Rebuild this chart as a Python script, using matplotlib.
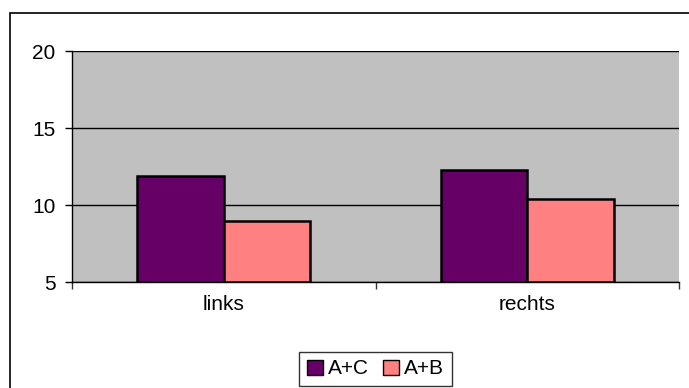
import matplotlib

matplotlib.use("Agg")
import matplotlib.pyplot as plt  # noqa: E402
import numpy as np  # noqa: E402
from matplotlib.patches import Rectangle  # noqa: E402

plt.rcParams["font.family"] = ["Liberation Sans", "DejaVu Sans"]

categories = ["links", "rechts"]
series_names = ["A+C", "A+B"]
values_ac = [11.9, 12.3]
values_ab = [9.0, 10.4]
y_ticks = [5, 10, 15, 20]

colors = ["#660066", "#FF8080"]
bar_w = 1 / 3.5  # gap width 150%
font_size = 15

fig = plt.figure(figsize=(6.89, 3.88), dpi=100)
ax = fig.add_axes([72 / 689, 1 - 282.3 / 388, (679 - 72) / 689, (282.3 - 51) / 388])
ax.set_facecolor("#C0C0C0")

x = np.arange(len(categories))
b1 = ax.bar(x - bar_w / 2, np.array(values_ac) - 5, bar_w, bottom=5, color=colors[0],
            edgecolor="black", linewidth=1.8, label=series_names[0], zorder=3)
b2 = ax.bar(x + bar_w / 2, np.array(values_ab) - 5, bar_w, bottom=5, color=colors[1],
            edgecolor="black", linewidth=1.8, label=series_names[1], zorder=3)

ax.set_ylim(5, 20)
ax.set_xlim(-0.5, len(categories) - 0.5)
ax.set_yticks(y_ticks)
ax.yaxis.grid(True, color="black", linewidth=1.0, zorder=1)
ax.set_axisbelow(True)

# category boundaries carry the ticks, labels sit at the centres
ax.set_xticks(np.arange(-0.5, len(categories), 1.0))
ax.set_xticklabels([])
ax.set_xticks(x, minor=True)
ax.set_xticklabels(categories, minor=True)
ax.tick_params(axis="x", which="major", length=5, width=1, color="#333333", direction="out")
ax.tick_params(axis="x", which="minor", length=0, pad=9, labelsize=font_size)
ax.tick_params(axis="y", length=5, width=1, direction="out", pad=7, labelsize=font_size)

for side in ("top", "right"):
    ax.spines[side].set_visible(False)
for side in ("left", "bottom"):
    ax.spines[side].set_linewidth(1.0)
    ax.spines[side].set_color("black")

leg = fig.legend(handles=[b1, b2], loc="center", bbox_to_anchor=(375.5 / 689, 1 - 369 / 388),
                 ncol=2, fontsize=font_size, frameon=True, fancybox=False, edgecolor="black",
                 handlelength=0.75, handleheight=0.75, handletextpad=0.25,
                 columnspacing=0.7, borderpad=0.38, borderaxespad=0)
leg.get_frame().set_linewidth(1.0)
for h in leg.legend_handles:
    h.set_linewidth(1.0)

# outer chart-area border
fig.patches.append(Rectangle((9.5 / 689, -0.1), 1.2, 1.1 - 13 / 388,
                             transform=fig.transFigure, fill=False,
                             edgecolor="black", linewidth=1.2))

fig.savefig("out.png", dpi=100)
